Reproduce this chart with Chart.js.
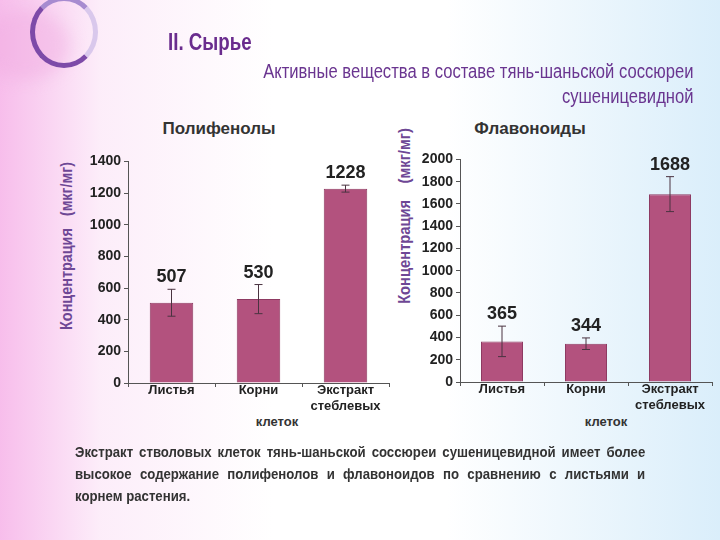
<!DOCTYPE html>
<html lang="ru">
<head>
  <meta charset="UTF-8" />
  <title>II. Сырье</title>
  <script src="https://cdn.jsdelivr.net/npm/chart.js"></script>
  <style>
    body { margin: 0; width: 720px; height: 540px; overflow: hidden; position: relative;
      font-family: "Liberation Sans", Arial, sans-serif;
      background: linear-gradient(90deg, rgba(246,178,232,0.85) 0%, rgba(250,220,244,0.5) 14%, #fff 38%, #fff 62%, rgba(214,236,250,0.9) 100%); }
    .abs { position: absolute; }
    .ring { left: 30px; top: -4px; width: 58px; height: 62px; border-radius: 50%;
      border: 5px solid #7d4aa8; border-right-color: #d9c8ec; border-top-color: #a78bd0; }
    .blob { left: -20px; top: 10px; width: 90px; height: 70px; border-radius: 50%;
      background: rgba(240,170,225,0.45); filter: blur(8px); }
    #head { left: 168px; top: 28px; font-size: 24px; font-weight: bold; color: #6a2c8e;
      transform: scaleX(0.78); transform-origin: left top; }
    #sub { right: 27px; top: 59px; text-align: right; font-size: 20px; line-height: 25px; color: #6a3590;
      transform: scaleX(0.83); transform-origin: right top; white-space: nowrap; }
    .ctitle { font-size: 17px; font-weight: bold; color: #333; transform: translateX(-50%); white-space: nowrap; }
    .ytitle { font-size: 16px; font-weight: bold; color: #6e4795; white-space: pre; }
    .xextra { font-size: 13px; font-weight: bold; color: #333; transform: translateX(-50%); }
    .box { position: absolute; }
    #note { left: 75px; top: 441px; width: 648px; font-size: 15px; font-weight: bold; color: #333;
      text-align: justify; line-height: 22px; transform: scaleX(0.88); transform-origin: left top; }
  </style>
</head>
<body>
  <div class="abs blob"></div>
  <div class="abs ring"></div>
  <div id="head" class="abs">II. Сырье</div>
  <div id="sub" class="abs">Активные вещества в составе тянь-шаньской соссюреи<br>сушеницевидной</div>

  <div class="abs ctitle" style="left:219px; top:119px;">Полифенолы</div>
  <div class="abs ctitle" style="left:530px; top:119px;">Флавоноиды</div>
  <div class="abs ytitle" style="left:67px; top:246px; transform: translate(-50%, -50%) rotate(-90deg) scaleX(0.9);">Концентрация   (мкг/мг)</div>
  <div class="abs ytitle" style="left:405px; top:216px; transform: translate(-50%, -50%) rotate(-90deg) scaleX(0.92);">Концентрация    (мкг/мг)</div>
  <div class="abs xextra" style="left:277px; top:414px;">клеток</div>
  <div class="abs xextra" style="left:606px; top:414px;">клеток</div>

  <div class="box" style="left:55px; top:150px; width:345px; height:290px;"><canvas id="poly"></canvas></div>
  <div class="box" style="left:385px; top:148px; width:335px; height:290px;"><canvas id="flav"></canvas></div>

  <div id="note" class="abs">Экстракт стволовых клеток тянь-шаньской соссюреи сушеницевидной имеет более высокое содержание полифенолов и флавоноидов по сравнению с листьями и корнем растения.</div>

  <script>
    const categories = [["Листья"], ["Корни"], ["Экстракт", "стеблевых"]];
    const polyphenols = [507, 530, 1228];
    const polyErr = [85, 92, 22];
    const flavonoids = [365, 344, 1688];
    const flavErr = [137, 52, 157];

    // error bars + value labels, drawn through the y scale
    const errLabels = {
      id: "errLabels",
      afterDatasetsDraw(chart, args, opts) {
        const ctx = chart.ctx, y = chart.scales.y;
        const vals = chart.data.datasets[0].data;
        chart.getDatasetMeta(0).data.forEach((bar, i) => {
          const top = y.getPixelForValue(vals[i] + opts.err[i]);
          const bot = y.getPixelForValue(vals[i] - opts.err[i]);
          ctx.save();
          ctx.strokeStyle = "#4a3340";
          ctx.lineWidth = 1;
          ctx.beginPath();
          ctx.moveTo(bar.x, top); ctx.lineTo(bar.x, bot);
          ctx.moveTo(bar.x - 4, top); ctx.lineTo(bar.x + 4, top);
          ctx.moveTo(bar.x - 4, bot); ctx.lineTo(bar.x + 4, bot);
          ctx.stroke();
          ctx.fillStyle = "#222";
          ctx.font = "bold 18px 'Liberation Sans', Arial, sans-serif";
          ctx.textAlign = "center";
          ctx.textBaseline = "bottom";
          ctx.fillText(String(vals[i]), bar.x, top - 3);
          ctx.restore();
        });
      }
    };

    function makeChart(id, values, errs, max, yWidth, xHeight, padRight) {
      return new Chart(document.getElementById(id), {
        type: "bar",
        data: {
          labels: categories,
          datasets: [{
            data: values,
            backgroundColor: "#b3527e",
            borderColor: "#8e3a62",
            borderWidth: 1,
            barPercentage: 0.5,
            categoryPercentage: 1
          }]
        },
        plugins: [errLabels],
        options: {
          responsive: true,
          maintainAspectRatio: false,
          animation: false,
          layout: { padding: { top: 9, right: padRight, left: 0, bottom: 0 } },
          plugins: { legend: { display: false }, tooltip: { enabled: false }, errLabels: { err: errs } },
          scales: {
            x: {
              grid: { drawOnChartArea: false, offset: true, tickLength: 4, color: "#555" },
              border: { color: "#555" },
              ticks: { color: "#222", padding: -4, font: { size: 13, weight: "bold" } },
              afterFit: s => { s.height = xHeight; }
            },
            y: {
              min: 0, max: max,
              ticks: { stepSize: 200, color: "#222", padding: 3, font: { size: 14, weight: "bold" },
                callback: v => String(v) },
              grid: { drawOnChartArea: false, tickLength: 4, color: "#555" },
              border: { color: "#555" },
              afterFit: s => { s.width = yWidth; }
            }
          }
        }
      });
    }

    makeChart("poly", polyphenols, polyErr, 1400, 73, 57, 11);
    makeChart("flav", flavonoids, flavErr, 2000, 75, 56, 8);
  </script>
</body>
</html>
